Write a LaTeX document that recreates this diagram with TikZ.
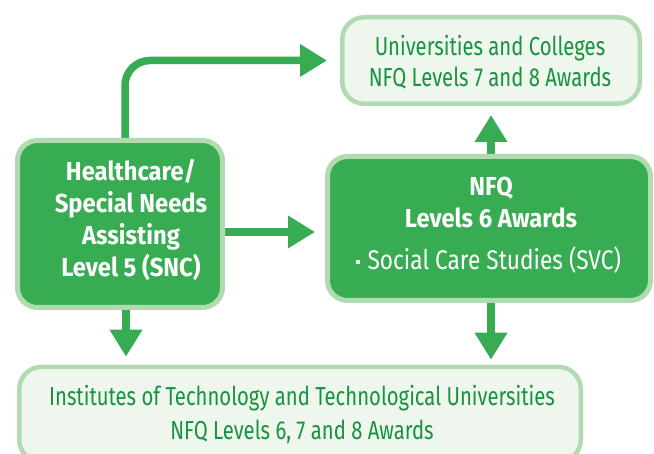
\documentclass[tikz,border=0pt]{standalone}
\usepackage{fontspec}
\setmainfont{Fira Sans}[FakeStretch=0.78]
\newfontfamily\regwide{Fira Sans}[FakeStretch=0.84]
\newfontfamily\boldwide{Fira Sans}[FakeStretch=0.915]
\usetikzlibrary{arrows.meta,backgrounds,calc}
\definecolor{gfill}{HTML}{38AC52}
\definecolor{gborder}{HTML}{B2DAB0}
\definecolor{lfill}{HTML}{EEF6EE}
\definecolor{gtext}{HTML}{17933F}
\tikzset{
  x=1pt,y=1pt,
  darkbox/.style={draw=gborder,fill=gfill,line width=5pt,rounded corners=20pt,inner sep=0pt},
  lightbox/.style={draw=gborder,fill=lfill,line width=4.5pt,rounded corners=22pt,inner sep=0pt},
  lighttxt/.style={text=gtext,align=center,font=\fontsize{26}{31}\selectfont},
  darktxt/.style={text=white,align=center,font=\boldwide\fontsize{26}{32}\selectfont\bfseries},
  flow/.style={draw=gfill,line width=7.5pt,-{Triangle[length=27pt,width=31pt]}},
}
\begin{document}
\begin{tikzpicture}
\useasboundingbox (0,0) rectangle (654,454);
% boxes
\node[lightbox,minimum width=297.5pt,minimum height=86.5pt] (uni) at (491,393.5) {};
\node[darkbox,minimum width=205pt,minimum height=167pt] (hc) at (120,230) {};
\node[darkbox,minimum width=323pt,minimum height=144pt] (nfq) at (489,225.5) {};
\node[lightbox,minimum width=561.5pt,minimum height=95pt] (it) at (300,39.5) {};
% texts
\node[lighttxt] (unit) at (490,392) {Universities and Colleges\\NFQ Levels 7 and 8 Awards};
\node[darktxt] (hct) at ($(hc.center)+(11,4)$) {Healthcare/\\Special Needs\\Assisting\\Level 5 (SNC)};
\node[darktxt,anchor=base] (nfqa) at (491,258) {NFQ};
\node[darktxt,anchor=base] (nfqb) at (491,226) {Levels 6 Awards};
\node[text=white,font=\regwide\fontsize{27}{30}\selectfont,anchor=base west] (nfqc) at (352,184) {\raisebox{6pt}{\rule{4pt}{4pt}}\hspace{8pt}Social Care Studies (SVC)};
\node[lighttxt,font=\fontsize{26}{34}\selectfont] (itt) at (302,39) {Institutes of Technology and Technological Universities\\NFQ Levels 6, 7 and 8 Awards};
% arrows
\begin{scope}[on background layer]
\coordinate (c1) at ($(hc.north)+(5,0)$);
\coordinate (c2) at ($(hc.south)+(6,0)$);
\coordinate (c3) at ($(hc.east)+(0,-8)$);
\draw[flow,rounded corners=25pt,shorten >=13pt] (c1) |- (uni.west);
\draw[flow,shorten >=10pt] (c3) -- (c3 -| nfq.west);
\draw[flow,shorten >=9pt] (uni.south |- nfq.north) -- (uni.south);
\draw[flow,shorten >=5pt] (uni.south |- nfq.south) -- (uni.south |- it.north);
\draw[flow,shorten >=8pt] (c2) -- (c2 |- it.north);
\end{scope}
\end{tikzpicture}
\end{document}
